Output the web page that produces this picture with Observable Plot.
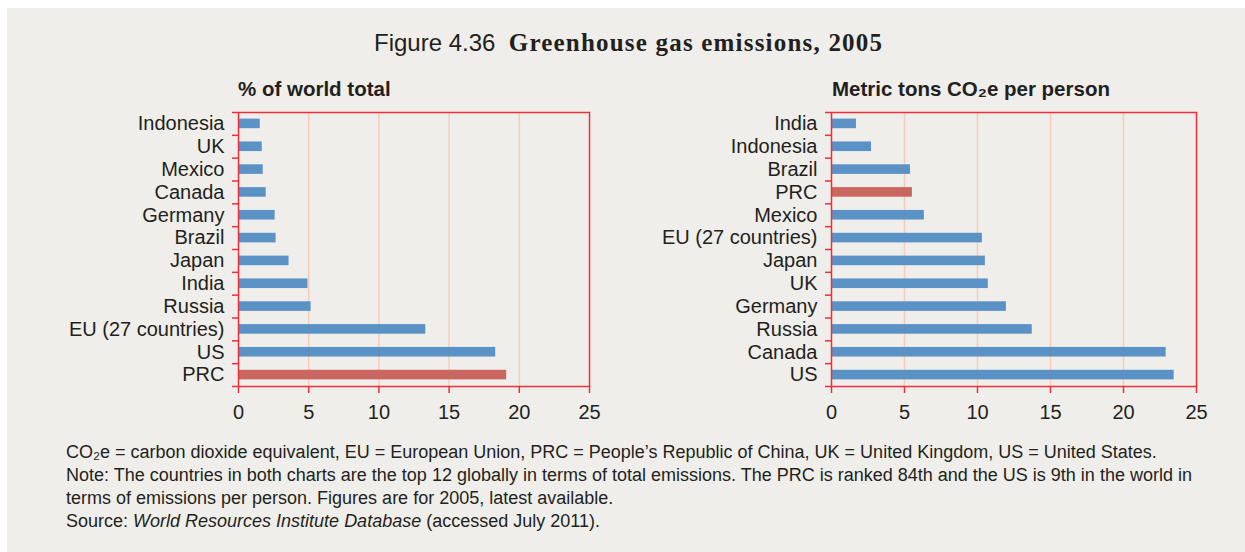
<!DOCTYPE html>
<html><head><meta charset="utf-8">
<script src="https://cdn.jsdelivr.net/npm/d3@7"></script>
<script src="https://cdn.jsdelivr.net/npm/@observablehq/plot@0.6"></script>
<style>
html,body{margin:0;padding:0;background:#fff;}
#page{position:relative;width:1245px;height:552px;overflow:hidden;font-family:"Liberation Sans",Arial,sans-serif;color:#231f20;}
#panel{position:absolute;left:7px;top:8px;right:0;bottom:0;background:#efeeea;}
.abs{position:absolute;white-space:nowrap;}
#title{left:374px;top:31px;font-size:24px;line-height:24px;}
#title b{font-family:"Liberation Serif","Times New Roman",serif;font-weight:bold;font-size:25px;letter-spacing:1.2px;}
.sub{top:78px;font-size:20.5px;line-height:21px;font-weight:bold;}
.note{left:66px;font-size:18px;line-height:23px;}
#c1{left:0;top:100px;}
#c2{left:620px;top:100px;}
</style></head><body>
<div id="page">
  <div id="panel"></div>
  <div id="title" class="abs">Figure 4.36&nbsp; <b>Greenhouse gas emissions, 2005</b></div>
  <div class="abs sub" style="left:238px">% of world total</div>
  <div class="abs sub" style="left:832px">Metric tons CO₂e per person</div>
  <div id="c1" class="abs"></div>
  <div id="c2" class="abs"></div>
  <div class="abs note" style="top:441px">CO₂e = carbon dioxide equivalent, EU = European Union, PRC = People’s Republic of China, UK = United Kingdom, US = United States.</div>
  <div class="abs note" style="top:464px">Note: The countries in both charts are the top 12 globally in terms of total emissions. The PRC is ranked 84th and the US is 9th in the world in</div>
  <div class="abs note" style="top:487px">terms of emissions per person. Figures are for 2005, latest available.</div>
  <div class="abs note" style="top:510px">Source: <i>World Resources Institute Database</i> (accessed July 2011).</div>
</div>
<script>
// Left panel: % of world total
const shareCountries = ["Indonesia","UK","Mexico","Canada","Germany","Brazil","Japan","India","Russia","EU (27 countries)","US","PRC"];
const shareValues = [1.55, 1.69, 1.76, 1.97, 2.61, 2.68, 3.6, 4.95, 5.17, 13.34, 18.32, 19.1];
// Right panel: metric tons CO2e per person
const perCapitaCountries = ["India","Indonesia","Brazil","PRC","Mexico","EU (27 countries)","Japan","UK","Germany","Russia","Canada","US"];
const perCapitaValues = [1.71, 2.74, 5.41, 5.54, 6.36, 10.33, 10.54, 10.74, 11.98, 13.75, 22.92, 23.47];
const xTicks = [0, 5, 10, 15, 20, 25];
const gridValues = [5, 10, 15, 20];
const highlight = "PRC";

const blue = "#5b92c6", red = "#c8665f", frameRed = "#ee2f3a", grid = "#f8cbbf", ink = "#231f20";

function chart(cats, vals, marginLeft, plotWidth) {
  const data = cats.map((c, i) => ({country: c, value: vals[i], kind: c === highlight ? "hi" : "base"}));
  const plotHeight = 274;
  const step = plotHeight / cats.length;
  const marginRight = 25, marginTop = 12, marginBottom = 42;
  return Plot.plot({
    width: marginLeft + plotWidth + marginRight,
    height: marginTop + plotHeight + marginBottom,
    marginLeft, marginRight, marginTop, marginBottom,
    style: {background: "transparent", fontFamily: '"Liberation Sans", Arial, sans-serif', fontSize: "20px", color: ink, overflow: "visible"},
    x: {domain: [0, 25], label: null},
    y: {domain: cats, paddingInner: 0.58, paddingOuter: 0.29, round: false, label: null},
    color: {domain: ["base", "hi"], range: [blue, red]},
    marks: [
      Plot.ruleX(gridValues, {stroke: grid, strokeWidth: 1.5}),
      Plot.barX(data, {y: "country", x: "value", fill: "kind"}),
      Plot.ruleY(cats, {y: d => d, x1: 0, x2: 0, insetLeft: -6, stroke: frameRed, strokeWidth: 1.5, dy: -step / 2}),
      Plot.ruleY(cats.slice(-1), {y: d => d, x1: 0, x2: 0, insetLeft: -6, stroke: frameRed, strokeWidth: 1.5, dy: step / 2}),
      Plot.frame({stroke: frameRed, strokeWidth: 1.5}),
      Plot.axisX({ticks: xTicks, tickSize: 7, tickPadding: 11, stroke: frameRed, strokeWidth: 1.5, strokeOpacity: 1, fill: ink, fontSize: 20, label: null}),
      Plot.axisY({tickSize: 0, tickPadding: 14, fill: ink, fontSize: 20, label: null})
    ]
  });
}

document.getElementById("c1").appendChild(chart(shareCountries, shareValues, 238, 351));
document.getElementById("c2").appendChild(chart(perCapitaCountries, perCapitaValues, 211, 365));
</script>
</body></html>
